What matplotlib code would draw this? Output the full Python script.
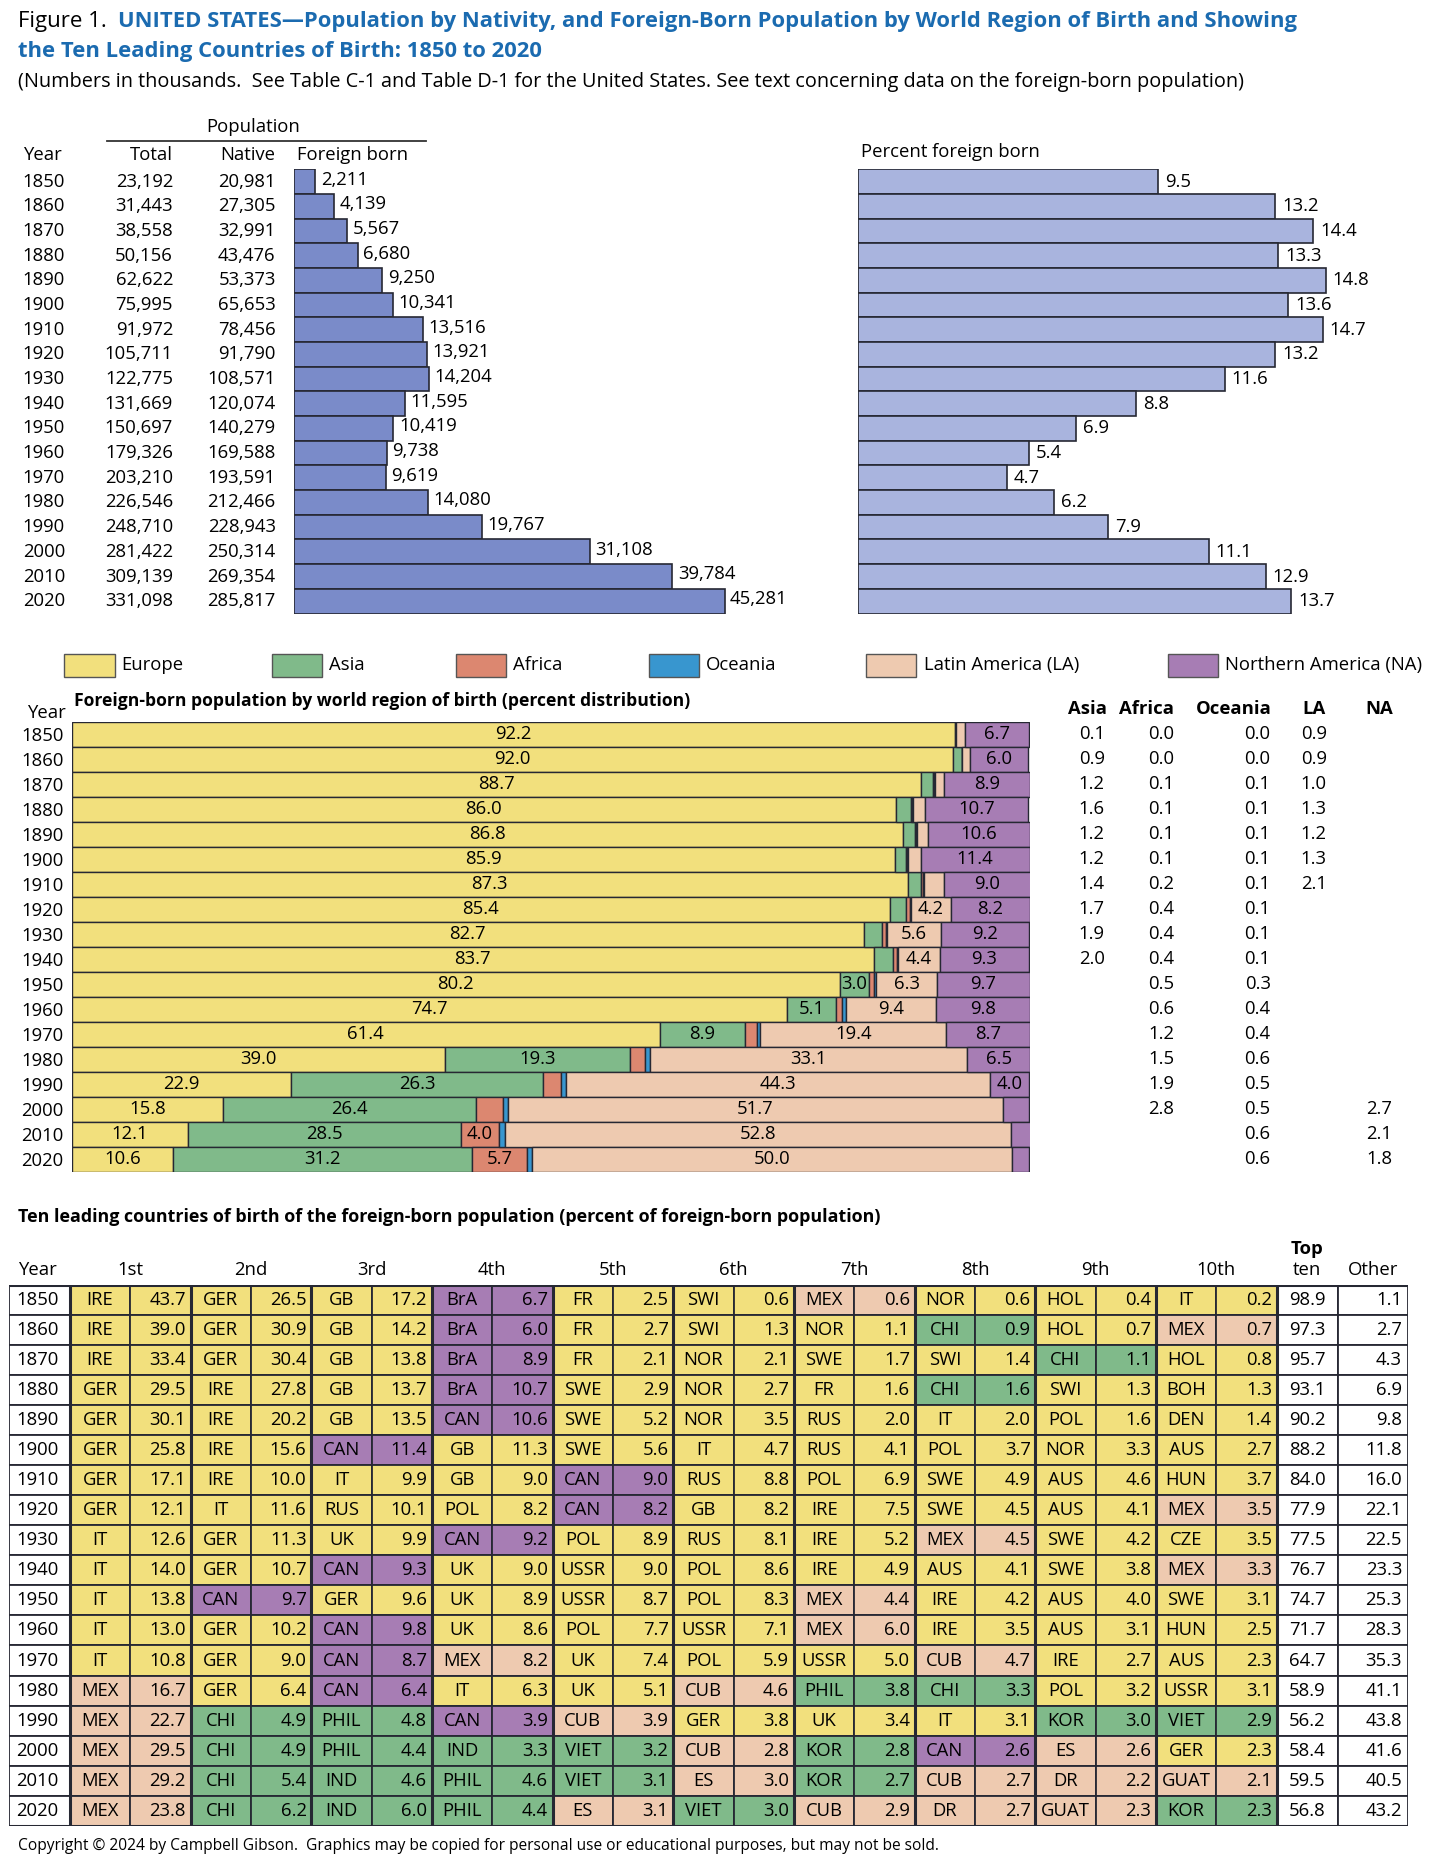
import numpy as np
import matplotlib
matplotlib.use("Agg")
import matplotlib.pyplot as plt
from matplotlib.patches import Rectangle

plt.rcParams['font.family'] = ['Open Sans', 'DejaVu Sans']

# ---- data ----
years = [1850, 1860, 1870, 1880, 1890, 1900, 1910, 1920, 1930, 1940,
         1950, 1960, 1970, 1980, 1990, 2000, 2010, 2020]
total_pop = [23192, 31443, 38558, 50156, 62622, 75995, 91972, 105711, 122775,
             131669, 150697, 179326, 203210, 226546, 248710, 281422, 309139, 331098]
native_pop = [20981, 27305, 32991, 43476, 53373, 65653, 78456, 91790, 108571,
              120074, 140279, 169588, 193591, 212466, 228943, 250314, 269354, 285817]
foreign_born = [2211, 4139, 5567, 6680, 9250, 10341, 13516, 13921, 14204,
                11595, 10419, 9738, 9619, 14080, 19767, 31108, 39784, 45281]
pct_foreign = [9.5, 13.2, 14.4, 13.3, 14.8, 13.6, 14.7, 13.2, 11.6,
               8.8, 6.9, 5.4, 4.7, 6.2, 7.9, 11.1, 12.9, 13.7]

regions = ['Europe', 'Asia', 'Africa', 'Oceania', 'Latin America (LA)', 'Northern America (NA)']
region_short = ['Europe', 'Asia', 'Africa', 'Oceania', 'LA', 'NA']
europe = [92.2, 92.0, 88.7, 86.0, 86.8, 85.9, 87.3, 85.4, 82.7, 83.7, 80.2, 74.7, 61.4, 39.0, 22.9, 15.8, 12.1, 10.6]
asia = [0.1, 0.9, 1.2, 1.6, 1.2, 1.2, 1.4, 1.7, 1.9, 2.0, 3.0, 5.1, 8.9, 19.3, 26.3, 26.4, 28.5, 31.2]
africa = [0.0, 0.0, 0.1, 0.1, 0.1, 0.1, 0.2, 0.4, 0.4, 0.4, 0.5, 0.6, 1.2, 1.5, 1.9, 2.8, 4.0, 5.7]
oceania = [0.0, 0.0, 0.1, 0.1, 0.1, 0.1, 0.1, 0.1, 0.1, 0.1, 0.3, 0.4, 0.4, 0.6, 0.5, 0.5, 0.6, 0.6]
latin_am = [0.9, 0.9, 1.0, 1.3, 1.2, 1.3, 2.1, 4.2, 5.6, 4.4, 6.3, 9.4, 19.4, 33.1, 44.3, 51.7, 52.8, 50.0]
north_am = [6.7, 6.0, 8.9, 10.7, 10.6, 11.4, 9.0, 8.2, 9.2, 9.3, 9.7, 9.8, 8.7, 6.5, 4.0, 2.7, 2.1, 1.8]

rank_labels = ['1st', '2nd', '3rd', '4th', '5th', '6th', '7th', '8th', '9th', '10th']
top_countries = [
    ['IRE', 'GER', 'GB', 'BrA', 'FR', 'SWI', 'MEX', 'NOR', 'HOL', 'IT'],
    ['IRE', 'GER', 'GB', 'BrA', 'FR', 'SWI', 'NOR', 'CHI', 'HOL', 'MEX'],
    ['IRE', 'GER', 'GB', 'BrA', 'FR', 'NOR', 'SWE', 'SWI', 'CHI', 'HOL'],
    ['GER', 'IRE', 'GB', 'BrA', 'SWE', 'NOR', 'FR', 'CHI', 'SWI', 'BOH'],
    ['GER', 'IRE', 'GB', 'CAN', 'SWE', 'NOR', 'RUS', 'IT', 'POL', 'DEN'],
    ['GER', 'IRE', 'CAN', 'GB', 'SWE', 'IT', 'RUS', 'POL', 'NOR', 'AUS'],
    ['GER', 'IRE', 'IT', 'GB', 'CAN', 'RUS', 'POL', 'SWE', 'AUS', 'HUN'],
    ['GER', 'IT', 'RUS', 'POL', 'CAN', 'GB', 'IRE', 'SWE', 'AUS', 'MEX'],
    ['IT', 'GER', 'UK', 'CAN', 'POL', 'RUS', 'IRE', 'MEX', 'SWE', 'CZE'],
    ['IT', 'GER', 'CAN', 'UK', 'USSR', 'POL', 'IRE', 'AUS', 'SWE', 'MEX'],
    ['IT', 'CAN', 'GER', 'UK', 'USSR', 'POL', 'MEX', 'IRE', 'AUS', 'SWE'],
    ['IT', 'GER', 'CAN', 'UK', 'POL', 'USSR', 'MEX', 'IRE', 'AUS', 'HUN'],
    ['IT', 'GER', 'CAN', 'MEX', 'UK', 'POL', 'USSR', 'CUB', 'IRE', 'AUS'],
    ['MEX', 'GER', 'CAN', 'IT', 'UK', 'CUB', 'PHIL', 'CHI', 'POL', 'USSR'],
    ['MEX', 'CHI', 'PHIL', 'CAN', 'CUB', 'GER', 'UK', 'IT', 'KOR', 'VIET'],
    ['MEX', 'CHI', 'PHIL', 'IND', 'VIET', 'CUB', 'KOR', 'CAN', 'ES', 'GER'],
    ['MEX', 'CHI', 'IND', 'PHIL', 'VIET', 'ES', 'KOR', 'CUB', 'DR', 'GUAT'],
    ['MEX', 'CHI', 'IND', 'PHIL', 'ES', 'VIET', 'CUB', 'DR', 'GUAT', 'KOR'],
]
top_shares = [
    [43.7, 26.5, 17.2, 6.7, 2.5, 0.6, 0.6, 0.6, 0.4, 0.2],
    [39.0, 30.9, 14.2, 6.0, 2.7, 1.3, 1.1, 0.9, 0.7, 0.7],
    [33.4, 30.4, 13.8, 8.9, 2.1, 2.1, 1.7, 1.4, 1.1, 0.8],
    [29.5, 27.8, 13.7, 10.7, 2.9, 2.7, 1.6, 1.6, 1.3, 1.3],
    [30.1, 20.2, 13.5, 10.6, 5.2, 3.5, 2.0, 2.0, 1.6, 1.4],
    [25.8, 15.6, 11.4, 11.3, 5.6, 4.7, 4.1, 3.7, 3.3, 2.7],
    [17.1, 10.0, 9.9, 9.0, 9.0, 8.8, 6.9, 4.9, 4.6, 3.7],
    [12.1, 11.6, 10.1, 8.2, 8.2, 8.2, 7.5, 4.5, 4.1, 3.5],
    [12.6, 11.3, 9.9, 9.2, 8.9, 8.1, 5.2, 4.5, 4.2, 3.5],
    [14.0, 10.7, 9.3, 9.0, 9.0, 8.6, 4.9, 4.1, 3.8, 3.3],
    [13.8, 9.7, 9.6, 8.9, 8.7, 8.3, 4.4, 4.2, 4.0, 3.1],
    [13.0, 10.2, 9.8, 8.6, 7.7, 7.1, 6.0, 3.5, 3.1, 2.5],
    [10.8, 9.0, 8.7, 8.2, 7.4, 5.9, 5.0, 4.7, 2.7, 2.3],
    [16.7, 6.4, 6.4, 6.3, 5.1, 4.6, 3.8, 3.3, 3.2, 3.1],
    [22.7, 4.9, 4.8, 3.9, 3.9, 3.8, 3.4, 3.1, 3.0, 2.9],
    [29.5, 4.9, 4.4, 3.3, 3.2, 2.8, 2.8, 2.6, 2.6, 2.3],
    [29.2, 5.4, 4.6, 4.6, 3.1, 3.0, 2.7, 2.7, 2.2, 2.1],
    [23.8, 6.2, 6.0, 4.4, 3.1, 3.0, 2.9, 2.7, 2.3, 2.3],
]
top_ten = [98.9, 97.3, 95.7, 93.1, 90.2, 88.2, 84.0, 77.9, 77.5, 76.7,
           74.7, 71.7, 64.7, 58.9, 56.2, 58.4, 59.5, 56.8]
other = [1.1, 2.7, 4.3, 6.9, 9.8, 11.8, 16.0, 22.1, 22.5, 23.3,
         25.3, 28.3, 35.3, 41.1, 43.8, 41.6, 40.5, 43.2]

# country -> world region
country_region = {
    'IRE': 'Europe', 'GER': 'Europe', 'GB': 'Europe', 'FR': 'Europe', 'SWI': 'Europe',
    'NOR': 'Europe', 'HOL': 'Europe', 'IT': 'Europe', 'SWE': 'Europe', 'BOH': 'Europe',
    'DEN': 'Europe', 'RUS': 'Europe', 'POL': 'Europe', 'AUS': 'Europe', 'HUN': 'Europe',
    'UK': 'Europe', 'CZE': 'Europe', 'USSR': 'Europe',
    'BrA': 'NA', 'CAN': 'NA',
    'MEX': 'LA', 'CUB': 'LA', 'ES': 'LA', 'DR': 'LA', 'GUAT': 'LA',
    'CHI': 'Asia', 'PHIL': 'Asia', 'IND': 'Asia', 'VIET': 'Asia', 'KOR': 'Asia',
}

# ---- style ----
colors = {'Europe': '#F2E07D', 'Asia': '#80BA8A', 'Africa': '#DC8770',
          'Oceania': '#3896CF', 'LA': '#EECAB0', 'NA': '#A77DB4'}
EDGE = '#262833'
FB_COLOR = '#7A8BC9'
PCT_COLOR = '#A9B4DE'
BLUE = '#1B6BB0'
FS = 13.3

W0, H0 = 1206.0, 1568.0
fig = plt.figure(figsize=(14.39, 18.60), dpi=100)


def add_ax(x0, y0, x1, y1):
    a = fig.add_axes([x0 / W0, 1 - y1 / H0, (x1 - x0) / W0, (y1 - y0) / H0])
    a.axis('off')
    return a


bg = fig.add_axes([0, 0, 1, 1])
bg.set_xlim(0, W0)
bg.set_ylim(H0, 0)
bg.axis('off')

# ---- titles ----
t1 = bg.text(15, 18, 'Figure 1.  ', fontsize=16, va='center')
bg.annotate('UNITED STATES\u2014Population by Nativity, and Foreign-Born Population by World Region of Birth and Showing',
            xycoords=t1, xy=(1, 0.5), va='center', fontsize=15.8, fontweight='bold', color=BLUE)
bg.text(15, 43, 'the Ten Leading Countries of Birth: 1850 to 2020', fontsize=15.8,
        fontweight='bold', color=BLUE, va='center')
bg.text(15, 69, '(Numbers in thousands.  See Table C-1 and Table D-1 for the United States. '
        'See text concerning data on the foreign-born population)', fontsize=14.3, va='center')

# ---- top left: population table + foreign born bars ----
n = len(years)
top0, row_h = 142.8, 20.8
bg.text(212, 107, 'Population', fontsize=FS, ha='center', va='center')
bg.plot([90, 357], [119, 119], color='#333333', lw=1.3)
bg.text(19, 131, 'Year', fontsize=FS, va='center')
bg.text(145, 131, 'Total', fontsize=FS, va='center', ha='right')
bg.text(231, 131, 'Native', fontsize=FS, va='center', ha='right')
bg.text(249, 131, 'Foreign born', fontsize=FS, va='center')
for i in range(n):
    yc = top0 + row_h * (i + 0.5)
    bg.text(19, yc, str(years[i]), fontsize=FS, va='center')
    bg.text(145, yc, f'{total_pop[i]:,}', fontsize=FS, va='center', ha='right')
    bg.text(231, yc, f'{native_pop[i]:,}', fontsize=FS, va='center', ha='right')

ax_fb = add_ax(246.7, top0, 680, top0 + n * row_h)
ax_fb.set_xlim(0, (680 - 246.7) * 125.6)
ax_fb.set_ylim(n - 0.5, -0.5)
ax_fb.barh(np.arange(n), foreign_born, height=1.0, color=FB_COLOR, edgecolor=EDGE, lw=1.2)
for i, v in enumerate(foreign_born):
    ax_fb.annotate(f'{v:,}', xy=(v, i), xytext=(4, 1.5), textcoords='offset points',
                   va='center', fontsize=FS)

bg.text(722, 128, 'Percent foreign born', fontsize=FS, va='center')
ax_pct = add_ax(719, top0, 1200, top0 + n * row_h)
ax_pct.set_xlim(0, (1200 - 719) / 26.5)
ax_pct.set_ylim(n - 0.5, -0.5)
ax_pct.barh(np.arange(n), pct_foreign, height=1.0, color=PCT_COLOR, edgecolor=EDGE, lw=1.2)
for i, v in enumerate(pct_foreign):
    ax_pct.annotate(f'{v:.1f}', xy=(v, i), xytext=(5, 0), textcoords='offset points',
                    va='center', fontsize=FS)

# ---- legend ----
legend_x = [54, 228, 382, 544, 726, 979]
for k, name in enumerate(regions):
    bg.add_patch(Rectangle((legend_x[k], 551), 42, 20, facecolor=colors[region_short[k]],
                           edgecolor='#555555', lw=1.0))
    bg.text(legend_x[k] + 48, 561, name, fontsize=FS, va='center')

# ---- stacked bars by region ----
reg_top, reg_h = 608.5, 21.08
bg.text(23, 601, 'Year', fontsize=FS, va='center')
bg.text(62, 591, 'Foreign-born population by world region of birth (percent distribution)',
        fontsize=12.6, fontweight='bold', va='center')
series = [europe, asia, africa, oceania, latin_am, north_am]
ax_reg = add_ax(60, reg_top, 863, reg_top + n * reg_h)
ax_reg.set_xlim(0, 100)
ax_reg.set_ylim(n - 0.5, -0.5)
left = np.zeros(n)
for k, vals in enumerate(series):
    vals = np.array(vals)
    ax_reg.barh(np.arange(n), vals, left=left, height=1.0, color=colors[region_short[k]],
                edgecolor=EDGE, lw=1.0)
    for i, v in enumerate(vals):
        if v >= 3.0:
            ax_reg.text(left[i] + v / 2, i, f'{v:.1f}', ha='center', va='center', fontsize=FS)
    left += vals

side_cols = [('Asia', 911, 915, asia), ('Africa', 961, 973, africa),
             ('Oceania', 1034, 1054, oceania), ('LA', 1101, 1101, latin_am),
             ('NA', 1156, 1156, north_am)]
for name, hx, vx, vals in side_cols:
    bg.text(hx, 598, name, fontsize=FS, fontweight='bold', ha='center', va='center')
    for i, v in enumerate(vals):
        if v < 3.0:
            bg.text(vx, reg_top + reg_h * (i + 0.5), f'{v:.1f}', fontsize=FS,
                    ha='center', va='center')
for i in range(n):
    bg.text(18, reg_top + reg_h * (i + 0.5) + 1.5, str(years[i]), fontsize=FS, va='center')

# ---- ten leading countries table ----
bg.text(15, 1026, 'Ten leading countries of birth of the foreign-born population '
        '(percent of foreign-born population)', fontsize=12.9, fontweight='bold', va='center')
tab_x0, tab_y0, tab_x1, tab_y1 = 7.7, 1083.5, 1180, 1539
ax_tab = add_ax(tab_x0, tab_y0, tab_x1, tab_y1)
ax_tab.set_xlim(0, tab_x1 - tab_x0)
ax_tab.set_ylim(n, 0)
year_w, cell_w, topw, otherw = 50.9, 50.57, 51.0, 59.0
cells_x0 = year_w
top_x0 = cells_x0 + 20 * cell_w
other_x0 = top_x0 + topw
for i in range(n):
    ax_tab.add_patch(Rectangle((0, i), year_w, 1, facecolor='white', edgecolor=EDGE, lw=1.3))
    ax_tab.text(6, i + 0.5, str(years[i]), fontsize=FS, va='center')
    for j in range(10):
        c = top_countries[i][j]
        col = colors[country_region[c]]
        xa = cells_x0 + 2 * j * cell_w
        ax_tab.add_patch(Rectangle((xa, i), cell_w, 1, facecolor=col, edgecolor=EDGE, lw=1.3))
        ax_tab.add_patch(Rectangle((xa + cell_w, i), cell_w, 1, facecolor=col, edgecolor=EDGE, lw=1.3))
        ax_tab.text(xa + cell_w / 2, i + 0.5, c, fontsize=FS, ha='center', va='center')
        ax_tab.text(xa + 2 * cell_w - 4, i + 0.5, f'{top_shares[i][j]:.1f}', fontsize=FS,
                    ha='right', va='center')
    ax_tab.add_patch(Rectangle((top_x0, i), topw, 1, facecolor='white', edgecolor=EDGE, lw=1.3))
    ax_tab.add_patch(Rectangle((other_x0, i), otherw, 1, facecolor='white', edgecolor=EDGE, lw=1.3))
    ax_tab.text(top_x0 + topw / 2, i + 0.5, f'{top_ten[i]:.1f}', fontsize=FS, ha='center', va='center')
    ax_tab.text(other_x0 + otherw - 5, i + 0.5, f'{other[i]:.1f}', fontsize=FS, ha='right', va='center')
group_edges = [cells_x0 + 2 * j * cell_w for j in range(11)]
ax_tab.vlines(group_edges, 0, n, color=EDGE, lw=2.2)
ax_tab.hlines([0, n], 0, tab_x1 - tab_x0, color=EDGE, lw=2.2)

bg.text(15, 1071, 'Year', fontsize=FS, va='center')
for j, lab in enumerate(rank_labels):
    bg.text(tab_x0 + cells_x0 + (2 * j + 1) * cell_w, 1071, lab, fontsize=FS,
            ha='center', va='center')
bg.text(tab_x0 + top_x0 + topw / 2, 1053, 'Top', fontsize=FS, fontweight='bold',
        ha='center', va='center')
bg.text(tab_x0 + top_x0 + topw / 2, 1071, 'ten', fontsize=FS, ha='center', va='center')
bg.text(tab_x0 + other_x0 + otherw / 2, 1071, 'Other', fontsize=FS, ha='center', va='center')

bg.text(15, 1556, 'Copyright \u00a9 2024 by Campbell Gibson.  Graphics may be copied for personal use '
        'or educational purposes, but may not be sold.', fontsize=11.2, va='center')

fig.savefig('out.png', dpi=100)
